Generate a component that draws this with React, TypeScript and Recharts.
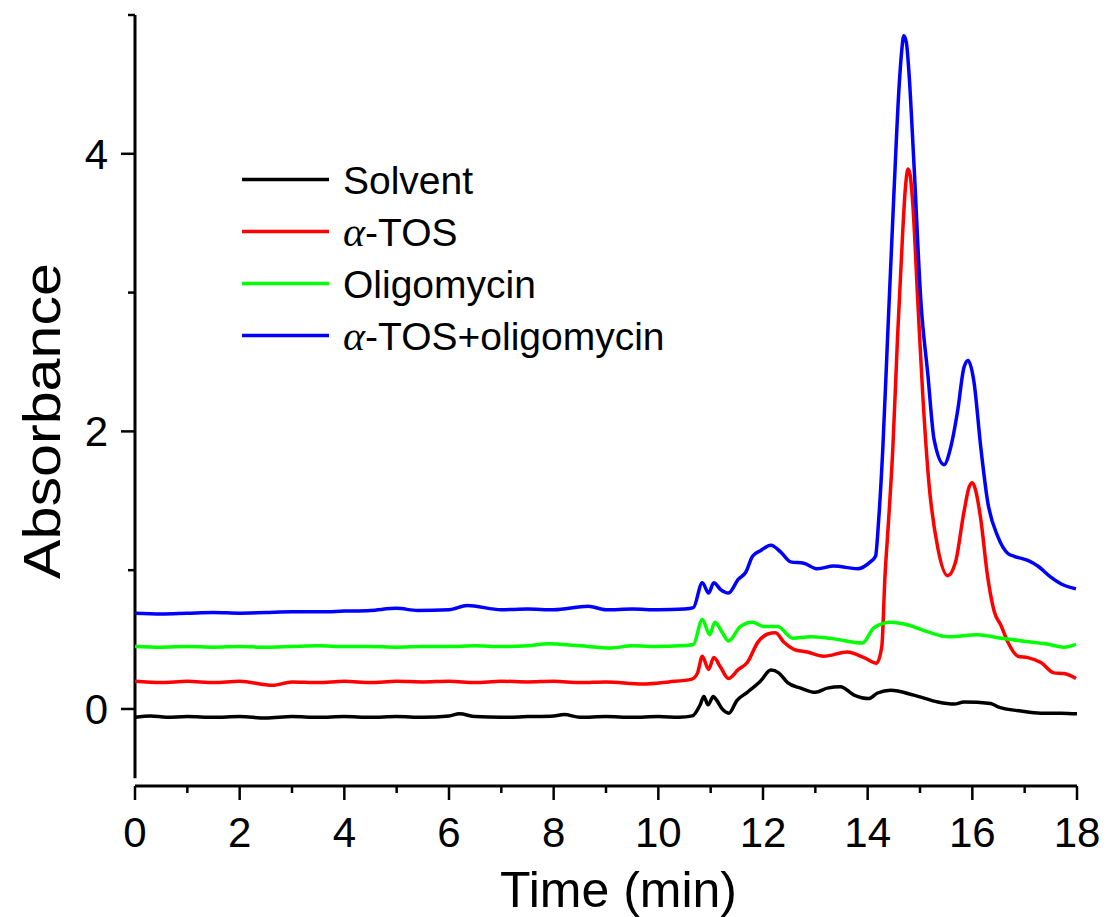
import React from 'react';
import { LineChart, Line, XAxis, YAxis, ReferenceLine, Legend } from 'recharts';

// ---- data (time in min, absorbance) ----
const solventTime = [0, 0.3, 0.6, 1.0, 1.5, 2.0, 2.5, 3.0, 3.5, 4.0, 4.5, 5.0, 5.5, 6.0, 6.2, 6.5, 7.0, 7.5, 8.0, 8.2, 8.5, 9.0, 9.5, 10.0, 10.4, 10.65, 10.8, 10.87, 10.95, 11.05, 11.12, 11.22, 11.35, 11.5, 11.7, 11.95, 12.15, 12.3, 12.47, 12.72, 13.0, 13.23, 13.48, 13.74, 14.02, 14.19, 14.44, 14.88, 15.34, 15.65, 15.84, 16.35, 16.49, 16.93, 17.31, 17.7, 18.0];
const solventAbs = [-0.06, -0.05, -0.06, -0.055, -0.06, -0.055, -0.065, -0.055, -0.06, -0.055, -0.06, -0.055, -0.06, -0.05, -0.035, -0.055, -0.06, -0.055, -0.05, -0.04, -0.06, -0.055, -0.06, -0.055, -0.06, -0.05, 0.03, 0.09, 0.03, 0.09, 0.06, 0.0, -0.03, 0.06, 0.12, 0.2, 0.28, 0.26, 0.19, 0.15, 0.12, 0.15, 0.16, 0.1, 0.075, 0.115, 0.135, 0.1, 0.05, 0.035, 0.05, 0.04, 0.015, -0.015, -0.03, -0.03, -0.035];

const tosTime = [0, 0.5, 1, 1.5, 2, 2.63, 3, 3.5, 4, 4.5, 5, 5.5, 6, 6.5, 7, 7.5, 8, 8.5, 9, 9.7, 10.2, 10.64, 10.75, 10.84, 10.96, 11.06, 11.19, 11.34, 11.53, 11.7, 11.9, 12.09, 12.24, 12.4, 12.59, 12.85, 13.16, 13.61, 13.93, 14.17, 14.27, 14.33, 14.4, 14.48, 14.57, 14.67, 14.72, 14.77, 14.81, 14.86, 14.96, 15.05, 15.17, 15.34, 15.53, 15.68, 15.84, 15.94, 16.0, 16.06, 16.16, 16.29, 16.42, 16.55, 16.68, 16.87, 17.06, 17.31, 17.56, 17.75, 17.98];
const tosAbs = [0.2, 0.19, 0.2, 0.19, 0.2, 0.17, 0.195, 0.19, 0.2, 0.19, 0.2, 0.195, 0.2, 0.19, 0.2, 0.195, 0.2, 0.19, 0.195, 0.18, 0.195, 0.215, 0.26, 0.38, 0.285, 0.37, 0.3, 0.22, 0.285, 0.335, 0.48, 0.54, 0.55, 0.48, 0.43, 0.41, 0.38, 0.41, 0.37, 0.33, 0.45, 0.95, 1.36, 1.87, 2.67, 3.44, 3.75, 3.89, 3.85, 3.65, 2.92, 2.28, 1.63, 1.16, 0.96, 1.06, 1.42, 1.6, 1.63, 1.58, 1.37, 0.96, 0.7, 0.6, 0.48, 0.38, 0.37, 0.335, 0.26, 0.255, 0.22];

const oligoTime = [0, 0.5, 1, 1.5, 2, 2.5, 3, 3.5, 4, 4.5, 5, 5.5, 6, 6.5, 7, 7.5, 7.9, 8.5, 9.1, 9.5, 10, 10.4, 10.67, 10.84, 10.98, 11.08, 11.23, 11.34, 11.57, 11.8, 12.01, 12.28, 12.57, 12.91, 13.35, 13.9, 14.12, 14.44, 14.77, 15.15, 15.55, 16.1, 16.55, 17.06, 17.4, 17.75, 17.98];
const oligoAbs = [0.45, 0.445, 0.45, 0.445, 0.45, 0.445, 0.45, 0.455, 0.45, 0.45, 0.445, 0.45, 0.45, 0.455, 0.45, 0.455, 0.47, 0.455, 0.44, 0.455, 0.45, 0.455, 0.465, 0.645, 0.535, 0.625, 0.545, 0.49, 0.595, 0.625, 0.595, 0.595, 0.51, 0.52, 0.505, 0.475, 0.585, 0.625, 0.605, 0.555, 0.52, 0.535, 0.51, 0.485, 0.47, 0.445, 0.465];

const comboTime = [0, 0.5, 1, 1.5, 2, 2.5, 3, 3.5, 4, 4.5, 5, 5.4, 6, 6.35, 7, 7.5, 8, 8.66, 9, 9.5, 10, 10.5, 10.67, 10.84, 10.96, 11.06, 11.19, 11.34, 11.53, 11.67, 11.8, 11.95, 12.15, 12.34, 12.53, 12.78, 13.04, 13.35, 13.81, 14.05, 14.15, 14.21, 14.29, 14.38, 14.5, 14.6, 14.65, 14.69, 14.74, 14.79, 14.88, 15.02, 15.15, 15.27, 15.46, 15.59, 15.72, 15.84, 15.92, 16.03, 16.16, 16.29, 16.49, 16.68, 16.8, 17.06, 17.25, 17.5, 17.7, 17.98];
const comboAbs = [0.69, 0.685, 0.69, 0.695, 0.69, 0.695, 0.7, 0.7, 0.705, 0.71, 0.725, 0.71, 0.715, 0.745, 0.715, 0.72, 0.715, 0.74, 0.715, 0.72, 0.715, 0.72, 0.73, 0.91, 0.835, 0.91, 0.86, 0.835, 0.935, 0.985, 1.1, 1.14, 1.18, 1.13, 1.06, 1.05, 1.01, 1.03, 1.01, 1.06, 1.1, 1.36, 1.88, 2.67, 3.7, 4.48, 4.74, 4.85, 4.8, 4.58, 3.96, 2.92, 2.41, 1.94, 1.76, 1.89, 2.15, 2.46, 2.51, 2.36, 1.89, 1.5, 1.24, 1.12, 1.1, 1.07, 1.03, 0.95, 0.9, 0.865];

const seriesNames = ['Solvent', 'α-TOS', 'Oligomycin', 'α-TOS+oligomycin'];
const seriesColors = ['#000000', '#ff0000', '#00ff00', '#0000ff'];
const xTicks = [0, 1, 2, 3, 4, 5, 6, 7, 8, 9, 10, 11, 12, 13, 14, 15, 16, 17, 18];
const yTicks = [0, 1, 2, 3, 4, 5];
const xLabeled = [0, 2, 4, 6, 8, 10, 12, 14, 16, 18];
const yLabeled = [0, 2, 4];

const FONT = '"Liberation Sans", Arial, Helvetica, sans-serif';

const toPoints = (ts: number[], vs: number[]) => ts.map((t, i) => ({ t, v: vs[i] }));
const seriesData = [
  toPoints(solventTime, solventAbs),
  toPoints(tosTime, tosAbs),
  toPoints(oligoTime, oligoAbs),
  toPoints(comboTime, comboAbs),
];

const XTick = (props: any) => {
  const { x, y, payload } = props;
  const v = payload.value;
  const major = xLabeled.includes(v);
  return (
    <g>
      <line x1={x} y1={y} x2={x} y2={y + (major ? 14 : 7)} stroke="#000" strokeWidth={2.5} />
      {major && (
        <text x={x} y={y + 61} textAnchor="middle" fontSize={42} fontFamily={FONT} fill="#000">
          {v}
        </text>
      )}
    </g>
  );
};

const YTick = (props: any) => {
  const { x, y, payload } = props;
  const v = payload.value;
  const major = yLabeled.includes(v);
  return (
    <g>
      <line x1={x} y1={y} x2={x - (major ? 14 : 7)} y2={y} stroke="#000" strokeWidth={2.5} />
      {major && (
        <text x={x - 27} y={y + 15} textAnchor="end" fontSize={42} fontFamily={FONT} fill="#000">
          {v}
        </text>
      )}
    </g>
  );
};

const renderLabel = (name: string) => {
  if (name.startsWith('α')) {
    return (
      <>
        <tspan fontFamily='"Liberation Serif", "Times New Roman", serif' fontStyle="italic" fontSize={42}>α</tspan>
        <tspan>{name.slice(1)}</tspan>
      </>
    );
  }
  return name;
};

const LegendBox = () => (
  <svg width={470} height={215} style={{ display: 'block', overflow: 'visible' }}>
    {seriesNames.map((name, i) => {
      const y = 29.5 + i * 52;
      return (
        <g key={name}>
          <line x1={12} y1={y} x2={99} y2={y} stroke={seriesColors[i]} strokeWidth={3.5} />
          <text x={113} y={y + 14} fontSize={39} fontFamily={FONT} fill="#000">
            {renderLabel(name)}
          </text>
        </g>
      );
    })}
  </svg>
);

export default function App() {
  return (
    <div style={{ fontFamily: FONT }}>
      <LineChart
        width={1099}
        height={909}
        margin={{ top: 7, right: 30, bottom: 0, left: 0 }}
        style={{ fontFamily: FONT }}
      >
        <XAxis
          dataKey="t"
          type="number"
          domain={[0, 18]}
          ticks={xTicks}
          interval={0}
          height={131}
          tickSize={0}
          tickMargin={0}
          tickLine={false}
          tick={<XTick />}
          axisLine={{ stroke: '#000', strokeWidth: 3 }}
          allowDataOverflow
          label={{
            content: () => (
              <text x={610.5} y={899} textAnchor="middle" fontSize={50} fontFamily={FONT} fill="#000">
                Time (min)
              </text>
            ),
          }}
        />
        <YAxis
          type="number"
          domain={[-0.555, 5]}
          ticks={yTicks}
          interval={0}
          width={127}
          tickSize={0}
          tickMargin={0}
          tickLine={false}
          tick={<YTick />}
          axisLine={false}
          allowDataOverflow
          label={{
            content: () => (
              <text
                transform="translate(52,413) rotate(-90)"
                textAnchor="middle"
                fontSize={52}
                fontFamily={FONT}
                fill="#000"
                textLength={316}
                lengthAdjust="spacingAndGlyphs"
              >
                Absorbance
              </text>
            ),
          }}
        />
        <ReferenceLine
          segment={[{ x: 0, y: -0.5 }, { x: 0, y: 5 }]}
          stroke="#000"
          strokeWidth={3}
          ifOverflow="visible"
        />
        {seriesData.map((d, i) => (
          <Line
            key={seriesNames[i]}
            data={d}
            dataKey="v"
            name={seriesNames[i]}
            type="monotone"
            stroke={seriesColors[i]}
            strokeWidth={3.5}
            strokeLinejoin="round"
            dot={false}
            activeDot={false}
            isAnimationActive={false}
          />
        ))}
        <Legend
          layout="vertical"
          align="center"
          verticalAlign="middle"
          wrapperStyle={{ position: 'absolute', left: 222, top: 142, width: 470, height: 215 }}
          content={() => <LegendBox />}
        />
      </LineChart>
    </div>
  );
}
